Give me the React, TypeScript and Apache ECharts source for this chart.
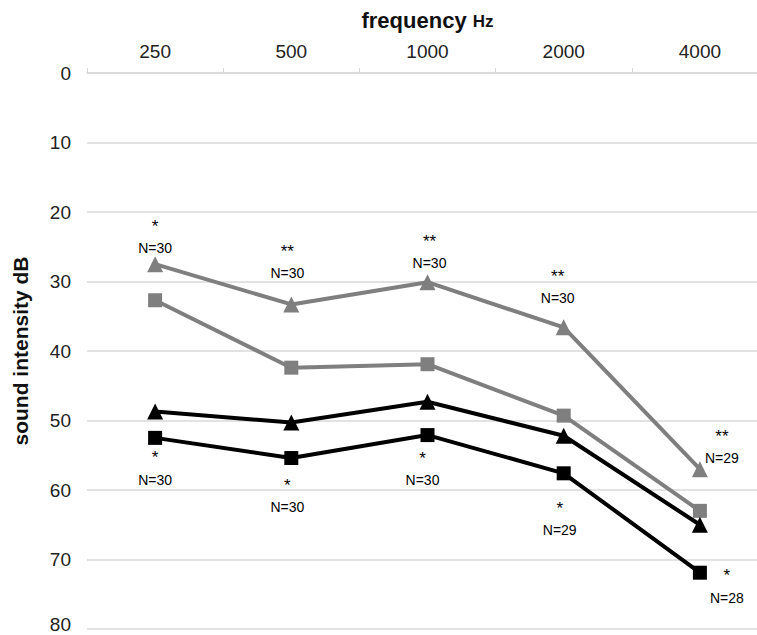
import React, { useEffect, useRef } from "react";
import * as echarts from "echarts";

const categories = ["250", "500", "1000", "2000", "4000"];
const grayTriangle = [27.5, 33.3, 30.1, 36.6, 57.0];
const graySquare = [32.7, 42.4, 41.9, 49.3, 63.0];
const blackTriangle = [48.7, 50.3, 47.3, 52.2, 65.0];
const blackSquare = [52.5, 55.4, 52.1, 57.6, 71.9];
const sigTop = ["*", "**", "**", "**", "**"];
const nTop = [30, 30, 30, 30, 29];
const sigBottom = ["*", "*", "*", "*", "*"];
const nBottom = [30, 30, 30, 29, 28];
const yTicks = { min: 0, max: 80, interval: 10 };

const FONT = "'Liberation Sans', Arial, Helvetica, sans-serif";
const GRAY = "#7f7f7f";

// label placement (pixels, relative to marker centre)
const topOffsets = [[0, -17], [-4, -32], [2, -20], [-6, -30], [22, -12]];
const bottomOffsets = [[0, 41], [-4, 48], [-5, 44], [-4, 56], [27, 24]];

const richStyle = {
  s: { fontSize: 17, lineHeight: 22, color: "#000", fontFamily: FONT, align: "center" },
  n: { fontSize: 14, lineHeight: 22, color: "#000", fontFamily: FONT, align: "center" },
};

function withLabels(values: number[], sig: string[], ns: number[], offs: number[][]) {
  return values.map((v, i) => ({
    value: v,
    label: {
      show: true,
      position: "inside",
      offset: [offs[i][0], offs[i][1] - 10],
      formatter: `{s|${sig[i]}}\n{n|N=${ns[i]}}`,
      rich: richStyle,
    },
  }));
}

export default function App() {
  const ref = useRef<HTMLDivElement>(null);
  useEffect(() => {
    if (!ref.current) return;
    const chart = echarts.init(ref.current, undefined, { renderer: "svg" });
    const lineSeries = (name: string, data: any[], color: string, symbol: string, size: number) => ({
      name,
      type: "line",
      data,
      symbol,
      symbolSize: size,
      showAllSymbol: true,
      lineStyle: { color, width: 4 },
      itemStyle: { color, borderWidth: 0 },
      label: { show: false },
      emphasis: { disabled: true },
    });
    chart.setOption({
      animation: false,
      backgroundColor: "#fff",
      textStyle: { fontFamily: FONT },
      grid: {
        left: 87,
        top: 73,
        width: 681,
        height: 556,
        containLabel: false,
        outerBoundsMode: "none",
      },
      xAxis: {
        type: "category",
        position: "top",
        data: categories,
        boundaryGap: true,
        name: "{a|frequency} {b|Hz}",
        nameLocation: "middle",
        nameGap: 42,
        nameTextStyle: {
          fontSize: 22,
          fontWeight: "bold",
          color: "#111",
          rich: {
            a: { fontSize: 22, fontWeight: "bold", color: "#111", fontFamily: FONT, lineHeight: 26, verticalAlign: "bottom" },
            b: { fontSize: 17, fontWeight: "bold", color: "#111", fontFamily: FONT, lineHeight: 26, verticalAlign: "bottom", padding: [0, 0, 1, 0] },
          },
        },
        axisLine: { show: true, lineStyle: { color: "#d9d9d9", width: 1.5 } },
        axisTick: { show: true, length: 5, alignWithLabel: false, lineStyle: { color: "#d9d9d9" } },
        axisLabel: { fontSize: 19, color: "#222", margin: 12, fontFamily: FONT },
        splitLine: { show: false },
      },
      yAxis: {
        type: "value",
        inverse: true,
        min: yTicks.min,
        max: yTicks.max,
        interval: yTicks.interval,
        name: "sound intensity dB",
        nameLocation: "middle",
        nameGap: 56,
        nameTextStyle: { fontSize: 21, fontWeight: "bold", color: "#111", fontFamily: FONT },
        axisLine: { show: false },
        axisTick: { show: false },
        axisLabel: {
          fontSize: 19,
          color: "#222",
          margin: 16,
          fontFamily: FONT,
          formatter: (v: number) => (v === yTicks.max ? `{last|${v}}` : `${v}`),
          rich: {
            last: { fontSize: 19, color: "#222", fontFamily: FONT, lineHeight: 19, padding: [0, 0, 10, 0] },
          },
        },
        splitLine: { show: true, lineStyle: { color: "#d9d9d9", width: 1.5 } },
      },
      series: [
        lineSeries("grayTriangle", withLabels(grayTriangle, sigTop, nTop, topOffsets), GRAY, "triangle", 16),
        lineSeries("graySquare", graySquare, GRAY, "rect", 14),
        lineSeries("blackTriangle", blackTriangle, "#000", "triangle", 16),
        lineSeries("blackSquare", withLabels(blackSquare, sigBottom, nBottom, bottomOffsets), "#000", "rect", 14),
      ],
    });
    return () => chart.dispose();
  }, []);
  return (
    <div
      ref={ref}
      style={{ position: "fixed", left: 0, top: 0, width: 757, height: 635 }}
    />
  );
}
